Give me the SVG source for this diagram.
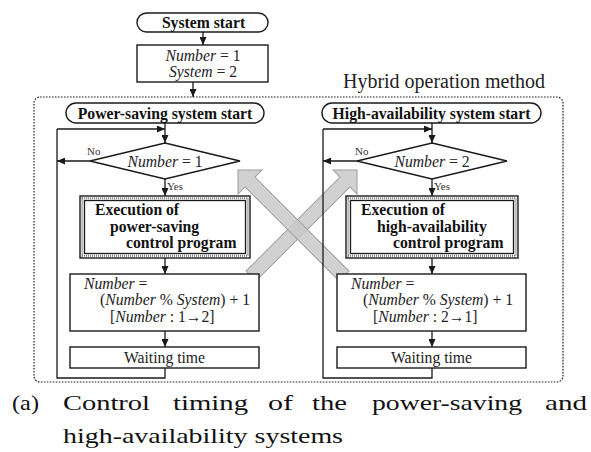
<svg xmlns="http://www.w3.org/2000/svg" width="591" height="452" viewBox="0 0 591 452">
<defs>
<marker id="ah" markerUnits="userSpaceOnUse" markerWidth="8" markerHeight="7" refX="8" refY="3.5" orient="auto">
<path d="M0,0 L8,3.5 L0,7 z" fill="#1a1a1a"/>
</marker>
<style>
.ln{fill:none;stroke:#1a1a1a;stroke-width:1.3}
.bx{fill:#fff;stroke:#1a1a1a;stroke-width:1.4}
.b{font-family:"Liberation Serif",serif;font-weight:bold;font-size:15.7px;fill:#111}
.t{font-family:"Liberation Serif",serif;font-size:15.7px;fill:#222}
.s{font-family:"Liberation Serif",serif;font-size:11px;fill:#333}
.cap{font-family:"Liberation Serif",serif;font-size:22px;fill:#111}
.i{font-style:italic}
.gray{fill:#c9c9c9;stroke:#9e9e9e;stroke-width:1;fill-opacity:0.85}
.mid{fill:none;stroke:#7a7a7a;stroke-width:2;stroke-dasharray:1 1}
</style>
</defs>
<rect width="591" height="452" fill="#fff"/>

<!-- hybrid frame -->
<g id="hybrid-frame">
<rect x="34" y="97" width="529" height="285" rx="6" fill="none" stroke="#222" stroke-width="1.2" stroke-dasharray="1.6 1.4"/>
<text x="343" y="88" font-family="Liberation Serif, serif" font-size="20" fill="#222" textLength="202" lengthAdjust="spacingAndGlyphs">Hybrid operation method</text>
</g>

<!-- gray crossing arrows -->
<g id="cross-arrows">
<polygon class="gray" transform="translate(357,170) rotate(135)" points="0,0 17,-17 17,-7 150,-7 150,7 17,7 17,17"/>
<polygon class="gray" transform="translate(238,170) rotate(45)" points="0,0 17,-17 17,-7 150,-7 150,7 17,7 17,17"/>
</g>

<!-- connectors -->
<g id="connectors">
<line class="ln" x1="203" y1="32" x2="203" y2="45" marker-end="url(#ah)"/>
<line class="ln" x1="193" y1="82" x2="193" y2="97" marker-end="url(#ah)"/>
<!-- left -->
<line class="ln" x1="165" y1="123" x2="165" y2="143" marker-end="url(#ah)"/>
<line class="ln" x1="57" y1="129" x2="165" y2="129" marker-end="url(#ah)"/>
<line class="ln" x1="90" y1="161" x2="57" y2="161" marker-end="url(#ah)"/>
<line class="ln" x1="165" y1="179" x2="165" y2="196" marker-end="url(#ah)"/>
<line class="ln" x1="165" y1="258" x2="165" y2="274" marker-end="url(#ah)"/>
<line class="ln" x1="165" y1="331" x2="165" y2="347" marker-end="url(#ah)"/>
<polyline class="ln" points="165,368 165,378 57,378 57,129"/>
<!-- right -->
<line class="ln" x1="432" y1="123" x2="432" y2="143" marker-end="url(#ah)"/>
<line class="ln" x1="323" y1="129" x2="432" y2="129" marker-end="url(#ah)"/>
<line class="ln" x1="357" y1="161" x2="323" y2="161" marker-end="url(#ah)"/>
<line class="ln" x1="432" y1="179" x2="432" y2="196" marker-end="url(#ah)"/>
<line class="ln" x1="432" y1="258" x2="432" y2="274" marker-end="url(#ah)"/>
<line class="ln" x1="432" y1="331" x2="432" y2="347" marker-end="url(#ah)"/>
<polyline class="ln" points="432,368 432,378 323,378 323,129"/>
<text class="s" x="87" y="155">No</text>
<text class="s" x="167" y="190">Yes</text>
<text class="s" x="355" y="155">No</text>
<text class="s" x="434" y="190">Yes</text>
</g>

<g id="system-start">
<rect class="bx" x="137" y="13" width="131" height="19" rx="9.5"/>
<text class="b" x="203.5" y="27.5" text-anchor="middle">System start</text>
</g>
<g id="init">
<rect class="bx" x="137" y="45" width="131" height="37"/>
<text class="t" x="203" y="61" text-anchor="middle"><tspan class="i">Number</tspan> = 1</text>
<text class="t" x="203" y="77" text-anchor="middle"><tspan class="i">System</tspan> = 2</text>
</g>

<!-- left column -->
<g id="ps-start">
<rect class="bx" x="66" y="103" width="198" height="20" rx="10"/>
<text class="b" x="165" y="118.5" text-anchor="middle">Power-saving system start</text>
</g>
<g id="ps-check">
<polygon class="bx" points="165,143 240,161 165,179 90,161"/>
<text class="t" x="165" y="166.5" text-anchor="middle"><tspan class="i">Number</tspan> = 1</text>
</g>
<g id="ps-exec">
<rect class="bx" x="80" y="196" width="170" height="62"/>
<rect class="mid" x="82.2" y="198.2" width="165.6" height="57.6"/>
<rect class="ln" x="84.5" y="200.5" width="161" height="53"/>
<text class="b" x="95" y="215">Execution of</text>
<text class="b" x="110" y="231.5">power-saving</text>
<text class="b" x="126" y="248">control program</text>
</g>
<g id="ps-update">
<rect class="bx" x="70" y="274" width="189" height="57"/>
<text class="t" x="84" y="289"><tspan class="i">Number</tspan> =</text>
<text class="t" x="100" y="305">(<tspan class="i">Number</tspan> % <tspan class="i">System</tspan>) + 1</text>
<text class="t" x="110" y="322">[<tspan class="i">Number</tspan> : 1→2]</text>
</g>
<g id="ps-wait">
<rect class="bx" x="70" y="347" width="189" height="21"/>
<text class="t" x="164.5" y="362.5" text-anchor="middle">Waiting time</text>
</g>

<!-- right column -->
<g id="ha-start">
<rect class="bx" x="322" y="103" width="219" height="20" rx="10"/>
<text class="b" x="431.5" y="118.5" text-anchor="middle">High-availability system start</text>
</g>
<g id="ha-check">
<polygon class="bx" points="432,143 507,161 432,179 357,161"/>
<text class="t" x="432" y="166.5" text-anchor="middle"><tspan class="i">Number</tspan> = 2</text>
</g>
<g id="ha-exec">
<rect class="bx" x="346" y="196" width="172" height="62"/>
<rect class="mid" x="348.2" y="198.2" width="167.6" height="57.6"/>
<rect class="ln" x="350.5" y="200.5" width="163" height="53"/>
<text class="b" x="361" y="215">Execution of</text>
<text class="b" x="377" y="231.5">high-availability</text>
<text class="b" x="393" y="248">control program</text>
</g>
<g id="ha-update">
<rect class="bx" x="337" y="274" width="189" height="57"/>
<text class="t" x="351" y="289"><tspan class="i">Number</tspan> =</text>
<text class="t" x="363" y="305">(<tspan class="i">Number</tspan> % <tspan class="i">System</tspan>) + 1</text>
<text class="t" x="373" y="322">[<tspan class="i">Number</tspan> : 2→1]</text>
</g>
<g id="ha-wait">
<rect class="bx" x="337" y="347" width="189" height="21"/>
<text class="t" x="431.5" y="362.5" text-anchor="middle">Waiting time</text>
</g>

<!-- caption -->
<g id="caption">
<text class="cap" x="12" y="410" textLength="27" lengthAdjust="spacingAndGlyphs">(a)</text>
<text class="cap" x="63" y="410" textLength="87" lengthAdjust="spacingAndGlyphs">Control</text>
<text class="cap" x="173" y="410" textLength="75" lengthAdjust="spacingAndGlyphs">timing</text>
<text class="cap" x="268" y="410" textLength="25" lengthAdjust="spacingAndGlyphs">of</text>
<text class="cap" x="312" y="410" textLength="35" lengthAdjust="spacingAndGlyphs">the</text>
<text class="cap" x="372" y="410" textLength="150" lengthAdjust="spacingAndGlyphs">power-saving</text>
<text class="cap" x="545" y="410" textLength="42" lengthAdjust="spacingAndGlyphs">and</text>
<text class="cap" x="63" y="443" textLength="280" lengthAdjust="spacingAndGlyphs">high-availability systems</text>
</g>
</svg>
